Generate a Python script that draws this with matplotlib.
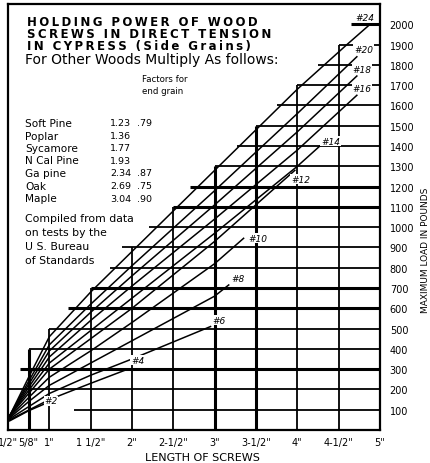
import matplotlib.pyplot as plt

# holding power curves: screw length (in) vs max load (lbs)
sizes = ['#2', '#4', '#6', '#8', '#10', '#12', '#14', '#16', '#18', '#20', '#24']
curve_len = [
    [0.52, 0.75, 0.95],
    [0.52, 1.0, 1.5, 1.95],
    [0.52, 1.0, 1.5, 2.0, 2.95],
    [0.52, 0.75, 1.0, 1.5, 2.0, 3.0, 3.17],
    [0.52, 0.75, 1.0, 1.5, 2.0, 3.0, 3.35],
    [0.52, 0.75, 1.0, 1.5, 2.0, 3.0, 3.97],
    [0.52, 0.75, 1.0, 1.5, 2.0, 3.0, 4.0, 4.3],
    [0.52, 0.75, 1.0, 1.5, 2.0, 3.0, 4.0, 4.72],
    [0.52, 0.75, 1.0, 1.5, 2.0, 3.0, 4.0, 4.72],
    [0.52, 0.75, 1.0, 1.5, 2.0, 3.0, 4.0, 4.72],
    [0.52, 0.75, 1.0, 1.5, 2.0, 3.0, 4.0, 4.6, 4.88],
]
curve_load = [
    [45, 95, 130],
    [50, 150, 230, 300],
    [55, 180, 270, 350, 510],
    [60, 140, 220, 330, 440, 660, 715],
    [65, 160, 260, 390, 530, 820, 945],
    [70, 180, 300, 450, 600, 930, 1280],
    [70, 195, 330, 490, 650, 970, 1300, 1410],
    [70, 210, 360, 540, 710, 1040, 1380, 1650],
    [70, 225, 390, 580, 760, 1110, 1470, 1745],
    [70, 240, 420, 620, 810, 1180, 1560, 1840],
    [70, 260, 460, 680, 880, 1280, 1680, 1900, 2000],
]

# staircase grid: load line -> length where it starts, length line -> top load
grid_load = list(range(100, 2001, 100))
grid_start = [1.3, 0.5, 0.65, 0.75, 1.0, 1.23, 1.5, 1.73, 1.88, 2.2,
              2.5, 2.7, 3.0, 3.27, 3.5, 3.75, 4.0, 4.25, 4.5, 4.65]
len_ticks = [0.5, 0.75, 1, 1.5, 2, 2.5, 3, 3.5, 4, 4.5, 5]
len_labels = ['1/2"', '5/8"', '1"', '1 1/2"', '2"', '2-1/2"', '3"', '3-1/2"',
              '4"', '4-1/2"', '5"']
len_top = [2100, 400, 500, 700, 900, 1100, 1300, 1500, 1700, 1900, 2100]

woods = ['Soft Pine', 'Poplar', 'Sycamore', 'N Cal Pine', 'Ga pine', 'Oak', 'Maple']
side_factor = ['1.23', '1.36', '1.77', '1.93', '2.34', '2.69', '3.04']
end_factor = ['.79', '', '', '', '.87', '.75', '.90']

# label spots for each curve (layout)
label_xy = [(1.02, 143), (2.07, 345), (3.05, 542), (3.28, 749), (3.52, 946),
            (4.04, 1237), (4.40, 1424), (4.78, 1681), (4.78, 1779),
            (4.80, 1878), (4.82, 2035)]

W, H = 430, 464
fig = plt.figure(figsize=(W / 100, H / 100), dpi=100)
ax = fig.add_axes([8 / W, 33 / H, 372 / W, 426 / H])
ax.set_xlim(0.5, 5.0)
ax.set_ylim(0, 2100)

thick_h = {300, 600, 700, 1100, 1200, 2000}
for v, x0 in zip(grid_load, grid_start):
    ax.hlines(v, x0, 5.0, color='k', lw=2.2 if v in thick_h else 1.3, zorder=1)
thick_v = {0.75, 3, 3.5}
for x, top in zip(len_ticks[1:-1], len_top[1:-1]):
    ax.vlines(x, 0, top, color='k', lw=2.2 if x in thick_v else 1.3, zorder=1)

for xs, ys in zip(curve_len, curve_load):
    ax.plot(xs, ys, color='k', lw=1.1, zorder=2)

for s, (x, y) in zip(sizes, label_xy):
    ax.text(x, y, s, fontsize=6.5, style='italic', ha='center', va='center',
            zorder=3, bbox=dict(fc='white', ec='none', pad=0.6))

for sp in ax.spines.values():
    sp.set_linewidth(1.6)

ax.yaxis.tick_right()
ax.set_yticks(grid_load)
ax.set_yticklabels([str(v) for v in grid_load], fontsize=7)
ax.set_xticks(len_ticks)
ax.set_xticklabels(len_labels, fontsize=7)
ax.tick_params(length=0)
ax.tick_params(axis='y', pad=7)
ax.tick_params(axis='x', pad=5)


def px(x, y):
    return x / W, 1 - y / H


title = ['HOLDING POWER OF WOOD', 'SCREWS IN DIRECT TENSION',
         'IN CYPRESS (Side Grains)']
for i, t in enumerate(title):
    spaced = '\u2009'.join(t)
    fig.text(*px(27, 22 + 12.3 * i), spaced, fontsize=8.5, fontweight='bold',
             va='center', ha='left')
fig.text(*px(25, 60), 'For Other Woods Multiply As follows:', fontsize=10,
         va='center')
fig.text(*px(142, 79), 'Factors for', fontsize=6.2, va='center')
fig.text(*px(142, 92), 'end grain', fontsize=6.2, va='center')

for i, (w, f1, f2) in enumerate(zip(woods, side_factor, end_factor)):
    yy = 124 + 12.5 * i
    fig.text(*px(25, yy), w, fontsize=7.6, va='center')
    fig.text(*px(110, yy), f1, fontsize=6.8, va='center')
    fig.text(*px(137, yy), f2, fontsize=6.8, va='center')

note = ['Compiled from data', 'on tests by the', 'U S. Bureau', 'of Standards']
for i, t in enumerate(note):
    fig.text(*px(25, 219 + 14 * i), t, fontsize=7.8, va='center')

fig.text(*px(202, 458), 'LENGTH OF SCREWS', fontsize=8, ha='center',
         va='center')
fig.text(*px(425, 250), 'MAXIMUM LOAD IN POUNDS', fontsize=6.5, rotation=90,
         ha='center', va='center')

fig.savefig('out.png', dpi=100)
